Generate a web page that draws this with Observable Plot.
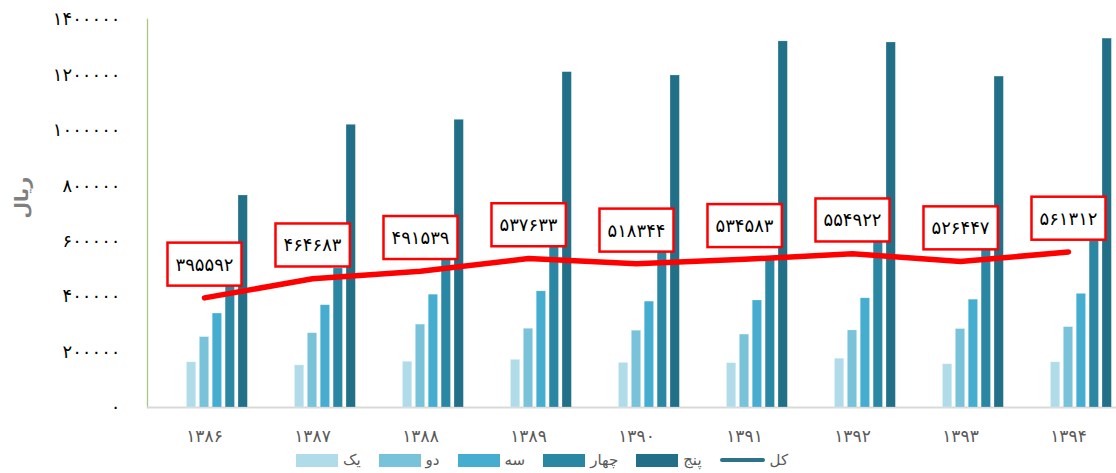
<!DOCTYPE html>
<html>
<head>
<meta charset="utf-8">
<script src="https://cdn.jsdelivr.net/npm/d3@7"></script>
<script src="https://cdn.jsdelivr.net/npm/@observablehq/plot@0.6"></script>
<style>
  html, body { margin: 0; padding: 0; background: #fff; }
  body { width: 1116px; height: 473px; overflow: hidden; font-family: "DejaVu Sans", sans-serif; }
  #legend { display: flex; align-items: center; height: 26px; padding-left: 296px; box-sizing: border-box; }
  .item { display: flex; align-items: center; margin-right: 18px; }
  .sw { width: 42px; height: 13px; margin-right: 5px; }
  .ln { width: 45px; height: 4px; border-radius: 2px; margin-right: 5px; }
  .lab { font-size: 15px; color: #595959; }
</style>
</head>
<body>
<div id="chart"></div>
<div id="legend"></div>
<script>
const years = ["۱۳۸۶","۱۳۸۷","۱۳۸۸","۱۳۸۹","۱۳۹۰","۱۳۹۱","۱۳۹۲","۱۳۹۳","۱۳۹۴"];
const seriesNames = ["یک","دو","سه","چهار","پنج"];
const yek    = [163000,152000,165000,172000,161000,160000,176000,156000,163000];
const doo    = [254000,268000,299000,284000,277000,263000,278000,283000,290000];
const seh    = [339000,369000,407000,419000,382000,386000,394000,389000,410000];
const chahar = [470000,502000,560000,590000,580000,540000,610000,580000,600000];
const panj   = [765000,1020000,1038000,1210000,1198000,1321000,1317000,1194000,1331000];
const total  = [395592,464683,491539,537633,518344,534583,554922,526447,561312];
const totalName = "کل";
const yTicks = [0,200000,400000,600000,800000,1000000,1200000,1400000];
const colors = ["#b0dcea","#78c2da","#45aed0","#2a87a3","#226f88"];
const totalColor = "#ff0000";
const legendLineColor = "#2e7189";

const fa = v => String(v).replace(/\d/g, d => "۰۱۲۳۴۵۶۷۸۹"[d]);

const seriesValues = [yek, doo, seh, chahar, panj];
const barData = [];
seriesValues.forEach((arr, k) => arr.forEach((v, i) => barData.push({year: years[i], series: seriesNames[k], k, value: v})));
const lineData = total.map((v, i) => ({year: years[i], value: v}));

const W = 1116, H = 447;
const xRange = [147, 1125];
const band = (xRange[1] - xRange[0]) / years.length;
const barW = 10, step = 12.9;
const inset = (band - barW) / 2;

const marks = [
  Plot.frame({anchor: "left", stroke: "#a9c67f", strokeWidth: 1.3}),
  Plot.ruleY([0], {stroke: "#d9d9d9", strokeWidth: 2})
];
seriesNames.forEach((s, k) => {
  marks.push(Plot.barY(barData.filter(d => d.k === k), {
    x: "year", y: "value", fill: colors[k],
    dx: (k - 1) * step, insetLeft: inset, insetRight: inset,
    stroke: "#ffffff", strokeOpacity: 0.35, strokeWidth: 0.6
  }));
});
marks.push(Plot.lineY(lineData, {x: "year", y: "value", stroke: totalColor, strokeWidth: 5.5, strokeLinecap: "round", strokeLinejoin: "round"}));
marks.push(Plot.text(lineData, {x: "year", y: "value", text: d => fa(d.value), dy: -33, fontSize: 18, fill: "#000", ariaDescription: "valuelabels", fontFamily: "DejaVu Sans"}));

const chart = Plot.plot({
  width: W, height: H,
  marginLeft: 147, marginRight: 0, marginTop: 19, marginBottom: 40,
  style: {fontFamily: "DejaVu Sans", background: "#fff"},
  x: {domain: years, range: xRange, padding: 0, tickSize: 0, tickPadding: 22, label: null},
  y: {domain: [0, 1400000], ticks: yTicks, tickFormat: fa, tickSize: 0, tickPadding: 27, label: null},
  marks: [
    ...marks,
    Plot.axisX({tickSize: 0, tickPadding: 22, fontSize: 17, fill: "#595959", label: null}),
    Plot.axisY({ticks: yTicks, tickFormat: fa, tickSize: 0, tickPadding: 27, fontSize: 18, fill: "#000", label: null}),
    Plot.text(["ریال"], {frameAnchor: "left", dx: -126, dy: 5, rotate: -90, fontSize: 19, fontWeight: "bold", fill: "#7f7f7f"})
  ]
});
document.getElementById("chart").appendChild(chart);

// boxes around value labels
const g = chart.querySelector('g[aria-description="valuelabels"]');
if (g) {
  g.querySelectorAll("text").forEach(t => {
    const b = t.getBBox();
    const r = document.createElementNS("http://www.w3.org/2000/svg", "rect");
    const padX = 8, padY = 11;
    r.setAttribute("x", b.x - padX);
    r.setAttribute("y", b.y - padY);
    r.setAttribute("width", b.width + 2 * padX);
    r.setAttribute("height", b.height + 2 * padY);
    r.setAttribute("fill", "#fff");
    r.setAttribute("stroke", "#ff0000");
    r.setAttribute("stroke-width", 2.5);
    const tr = t.getAttribute("transform");
    if (tr) r.setAttribute("transform", tr);
    t.parentNode.insertBefore(r, t);
  });
}

// legend
const leg = document.getElementById("legend");
seriesNames.forEach((s, k) => {
  const it = document.createElement("div"); it.className = "item";
  const sw = document.createElement("div"); sw.className = "sw"; sw.style.background = colors[k];
  const lb = document.createElement("span"); lb.className = "lab"; lb.textContent = s;
  it.append(sw, lb); leg.append(it);
});
{
  const it = document.createElement("div"); it.className = "item";
  const sw = document.createElement("div"); sw.className = "ln"; sw.style.background = legendLineColor;
  const lb = document.createElement("span"); lb.className = "lab"; lb.textContent = totalName;
  it.append(sw, lb); leg.append(it);
}
</script>
</body>
</html>
